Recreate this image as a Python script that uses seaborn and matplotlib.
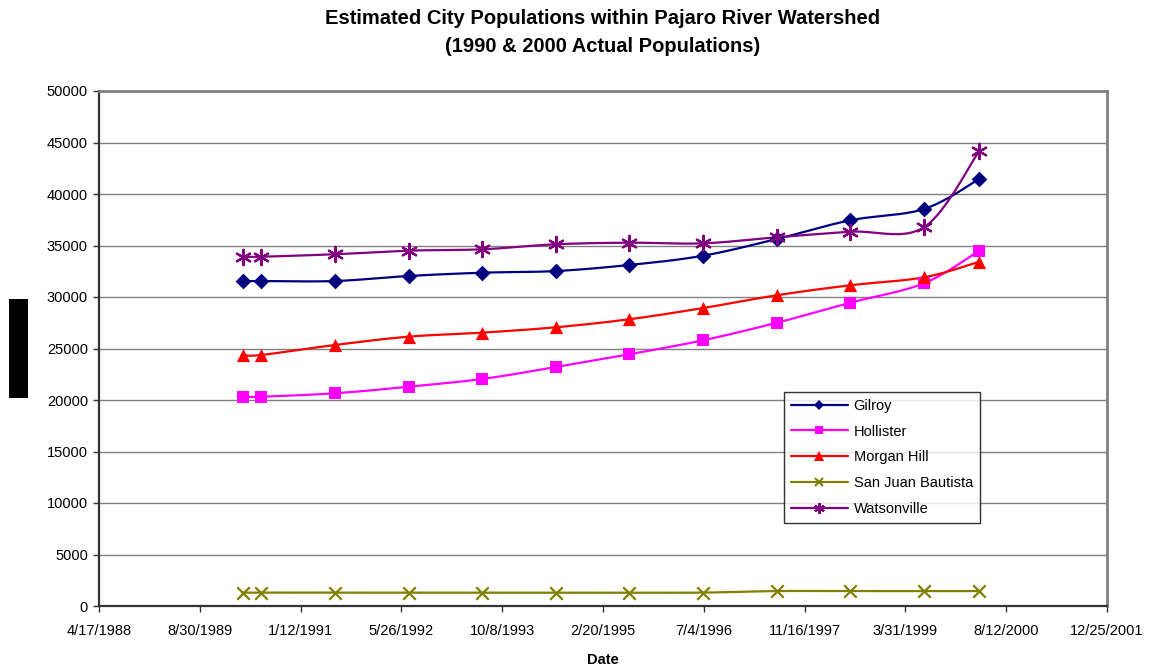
import numpy as np
import pandas as pd
import matplotlib
matplotlib.use("Agg")
import matplotlib.pyplot as plt
import matplotlib.dates as mdates
from matplotlib.patches import Rectangle
from matplotlib.lines import Line2D
import seaborn as sns

# Estimate dates (1990 & 2000 are census counts on April 1, the rest are July 1 estimates)
dates = ["1990-04-01", "1990-07-01", "1991-07-01", "1992-07-01", "1993-07-01",
         "1994-07-01", "1995-07-01", "1996-07-01", "1997-07-01", "1998-07-01",
         "1999-07-01", "2000-04-01"]

gilroy = [31550, 31550, 31550, 32040, 32360, 32520, 33110, 34010, 35630, 37450, 38540, 41460]
hollister = [20320, 20320, 20650, 21290, 22040, 23200, 24440, 25800, 27500, 29450, 31330, 34500]
morgan_hill = [24370, 24370, 25340, 26150, 26540, 27060, 27840, 28930, 30170, 31140, 31910, 33430]
san_juan_bautista = [1300, 1300, 1300, 1300, 1300, 1300, 1300, 1300, 1450, 1450, 1450, 1450]
watsonville = [33910, 33910, 34150, 34500, 34630, 35120, 35270, 35210, 35800, 36340, 36770, 44200]

cities = ["Gilroy", "Hollister", "Morgan Hill", "San Juan Bautista", "Watsonville"]
series = [gilroy, hollister, morgan_hill, san_juan_bautista, watsonville]
colors = ["#000080", "#FF00FF", "#FF0000", "#808000", "#800080"]
markers = ["D", "s", "^", "x", (6, 2, 0)]
msizes = [8, 9, 9.5, 9, 11]

tick_labels = ["4/17/1988", "8/30/1989", "1/12/1991", "5/26/1992", "10/8/1993",
               "2/20/1995", "7/4/1996", "11/16/1997", "3/31/1999", "8/12/2000",
               "12/25/2001"]

df = pd.DataFrame({"Date": pd.to_datetime(dates)})
for name, vals in zip(cities, series):
    df[name] = vals
long = df.melt(id_vars="Date", var_name="City", value_name="Population")

sns.set_theme(style="white")
plt.rcParams["font.family"] = ["Liberation Sans", "DejaVu Sans"]
plt.rcParams["text.color"] = "black"
plt.rcParams["axes.labelcolor"] = "black"

fig = plt.figure(figsize=(11.55, 6.68), dpi=100)
ax = fig.add_axes([99 / 1155, 1 - 606 / 668, 1008 / 1155, 515 / 668])

tick_dates = pd.to_datetime(tick_labels, format="%m/%d/%Y")
xmin = mdates.date2num(tick_dates[0])
xmax = mdates.date2num(tick_dates[-1])
ymin, ymax = 0, 50000
aspect = 515 / 1008


def smooth(xs, ys, n=24):
    """Catmull-Rom style smoothed path through the points, done in screen proportions."""
    px = (np.asarray(xs) - xmin) / (xmax - xmin)
    py = (np.asarray(ys) - ymin) / (ymax - ymin) * aspect
    pts = np.column_stack([px, py])
    ext = np.vstack([pts[0], pts, pts[-1]])
    out = [pts[0]]
    for i in range(1, len(ext) - 2):
        p0, p1, p2, p3 = ext[i - 1], ext[i], ext[i + 1], ext[i + 2]
        c1 = p1 + (p2 - p0) / 6.0
        c2 = p2 - (p3 - p1) / 6.0
        t = np.linspace(0, 1, n)[1:, None]
        seg = ((1 - t) ** 3) * p1 + 3 * ((1 - t) ** 2) * t * c1 + 3 * (1 - t) * t ** 2 * c2 + t ** 3 * p2
        out.extend(seg)
    out = np.array(out)
    return out[:, 0] * (xmax - xmin) + xmin, out[:, 1] / aspect * (ymax - ymin) + ymin


# Horizontal gridlines
for yv in range(5000, 50001, 5000):
    ax.axhline(yv, color="#808080", lw=1.0, zorder=0)

xnum = mdates.date2num(df["Date"])
for name, col, mk, ms in zip(cities, colors, markers, msizes):
    sub = long[long["City"] == name]
    sx, sy = smooth(mdates.date2num(sub["Date"]), sub["Population"].values)
    ax.plot(sx, sy, color=col, lw=1.6, zorder=2, solid_capstyle="round")
    sns.scatterplot(x=xnum, y=sub["Population"].values, ax=ax, marker=mk,
                    s=(ms ** 2), color=col, edgecolor=col,
                    linewidth=(1.6 if mk in ("x", (6, 2, 0)) else 0), zorder=3, legend=False)

ax.set_xlim(xmin, xmax)
ax.set_ylim(ymin, ymax)
ax.set_xticks(mdates.date2num(tick_dates))
ax.set_xticklabels(tick_labels)
ax.set_yticks(range(0, 50001, 5000))
ax.set_yticklabels([str(v) for v in range(0, 50001, 5000)])
ax.tick_params(axis="both", which="both", direction="out", length=4, width=1,
               color="#333333", labelsize=10.5, labelcolor="black", pad=4,
               bottom=True, left=True)
ax.tick_params(axis="x", pad=9)

for side in ("left", "bottom"):
    ax.spines[side].set_color("#333333")
    ax.spines[side].set_linewidth(1.6)
for side in ("top", "right"):
    ax.spines[side].set_color("#808080")
    ax.spines[side].set_linewidth(2.0)
    ax.spines[side].set_visible(True)

ax.set_xlabel("Date", fontsize=10.5, fontweight="bold", labelpad=11, color="black")
ax.set_ylabel("")

# Legend
handles = [Line2D([0], [0], color=c, lw=1.6, marker=m, markersize=ms * 0.7,
                  markeredgecolor=c, markerfacecolor=c,
                  markeredgewidth=(1.5 if m in ("x", (6, 2, 0)) else 0))
           for c, m, ms in zip(colors, markers, msizes)]
leg = ax.legend(handles, cities, loc="lower left",
                bbox_to_anchor=(0.6796, 0.161, 0.194, 0.256), mode="expand",
                frameon=True, fancybox=False, fontsize=10.5, handlelength=3.9,
                handletextpad=0.4, borderpad=0.47, labelspacing=0.815,
                borderaxespad=0)
leg.get_frame().set_edgecolor("#000000")
leg.get_frame().set_linewidth(1.0)
for txt in leg.get_texts():
    txt.set_color("black")

fig.text(603 / 1155, 1 - 18 / 668, "Estimated City Populations within Pajaro River Watershed",
         ha="center", va="center", fontsize=14.5, fontweight="bold", color="black")
fig.text(603 / 1155, 1 - 47 / 668, "(1990 & 2000 Actual Populations)",
         ha="center", va="center", fontsize=14.5, fontweight="bold", color="black")

# Black block at the left edge
fig.patches.append(Rectangle((9 / 1155, 1 - 398 / 668), 19 / 1155, 99 / 668,
                             transform=fig.transFigure, facecolor="black",
                             edgecolor="none"))

fig.savefig("out.png", dpi=100)
